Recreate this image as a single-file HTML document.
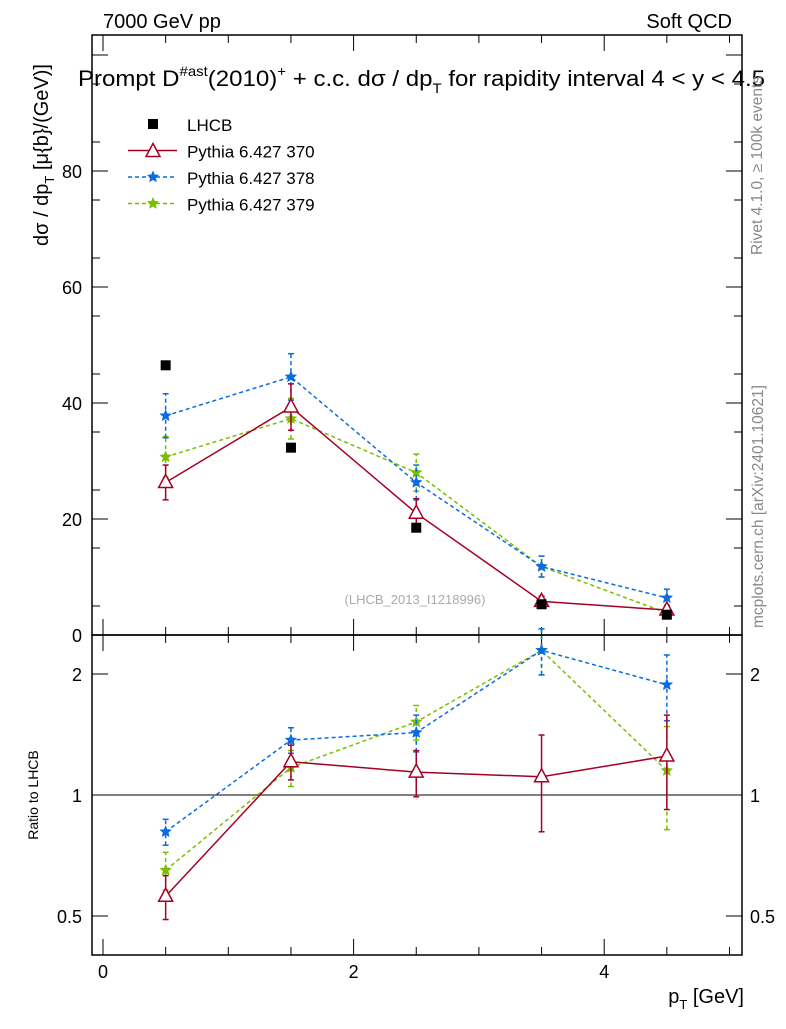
<!DOCTYPE html>
<html><head><meta charset="utf-8"><style>
body{margin:0;background:#fff}
svg text{font-family:"Liberation Sans",sans-serif}
</style></head><body>
<svg id="c" width="786" height="1024" xmlns="http://www.w3.org/2000/svg">
<rect x="92" y="35" width="650" height="600" fill="none" stroke="#000" stroke-width="1.5"/>
<rect x="92" y="635" width="650" height="320" fill="none" stroke="#000" stroke-width="1.5"/>
<text x="103" y="28" font-size="20">7000 GeV pp</text>
<text x="732" y="28" font-size="20" text-anchor="end">Soft QCD</text>
<text x="78" y="86" font-size="22.5" textLength="687" lengthAdjust="spacingAndGlyphs">Prompt D<tspan dy="-10" font-size="14">#ast</tspan><tspan dy="10">(2010)</tspan><tspan dy="-10" font-size="14">+</tspan><tspan dy="10"> + c.c.  dσ / dp</tspan><tspan dy="7" font-size="14">T</tspan><tspan dy="-7"> for rapidity interval 4 &lt; y &lt; 4.5</tspan></text>
<text transform="translate(48,155) rotate(-90)" font-size="20" text-anchor="middle">dσ / dp<tspan dy="6" font-size="13">T</tspan><tspan dy="-6"> [μ{b}/(GeV)]</tspan></text>
<text transform="translate(38,795) rotate(-90)" font-size="14" text-anchor="middle">Ratio to LHCB</text>
<text x="744" y="1003" font-size="20" text-anchor="end">p<tspan dy="6" font-size="13">T</tspan><tspan dy="-6"> [GeV]</tspan></text>
<text transform="translate(762,255) rotate(-90)" font-size="15.5" fill="#888">Rivet 4.1.0, ≥ 100k events</text>
<text transform="translate(763,628) rotate(-90)" font-size="15.5" fill="#888">mcplots.cern.ch [arXiv:2401.10621]</text>
<text x="415" y="604" font-size="13" fill="#aaa" text-anchor="middle">(LHCB_2013_I1218996)</text>
<g id="axes"></g><g id="marks"></g><g id="legend"></g>
</svg>
<script>
const xs=[0.5,1.5,2.5,3.5,4.5];
const lhcb=[46.5,32.3,18.5,5.3,3.5];
const s370=[26.3,39.3,21.0,5.8,4.3];
const e370=[3.0,4.0,2.5,0.9,0.8];
const s378=[37.8,44.5,26.3,11.8,6.4];
const e378=[3.8,4.0,3.0,1.8,1.5];
const s379=[30.7,37.3,28.0,11.8,3.8];
const e379=[3.5,3.5,3.2,1.8,1.0];
const r370=[0.56,1.21,1.14,1.11,1.25];
const re370=[0.07,0.12,0.15,0.3,0.33];
const r378=[0.81,1.37,1.43,2.29,1.88];
const re378=[0.06,0.1,0.15,0.3,0.35];
const r379=[0.65,1.17,1.52,2.29,1.15];
const re379=[0.07,0.12,0.15,0.3,0.33];
const yTicks=[0,20,40,60,80,100];
const xTicks=[0,2,4];
const rTicks=[0.5,1,2];
const X=v=>103+v*125.3;
const Y=v=>635-v*5.8;
const R=v=>795-Math.log2(v)*121;
const NS='http://www.w3.org/2000/svg';
function mk(p,t,a){const e=document.createElementNS(NS,t);for(const k in a)e.setAttribute(k,a[k]);document.getElementById(p).appendChild(e);return e;}
yTicks.forEach(v=>{const l=mk('axes','line',{x1:92,x2:108,y1:Y(v),y2:Y(v),stroke:'#000'});
if(v<=80){const t=mk('axes','text',{x:82,y:Y(v)+7,'font-size':18,'text-anchor':'end'});t.textContent=v;}
const l2=mk('axes','line',{x1:726,x2:742,y1:Y(v),y2:Y(v),stroke:'#000'});});
for(let v=5;v<100;v+=10){if(Y(v)<37)continue;mk('axes','line',{x1:92,x2:100,y1:Y(v),y2:Y(v),stroke:'#000'});mk('axes','line',{x1:734,x2:742,y1:Y(v),y2:Y(v),stroke:'#000'});}
xTicks.forEach(v=>{[[635,619],[35,51],[955,939],[635,651]].forEach(([a,b])=>{const l=mk('axes','line',{x1:X(v),x2:X(v),y1:a,y2:b,stroke:'#000'});});
const t=mk('axes','text',{x:X(v),y:978,'font-size':18,'text-anchor':'middle'});t.textContent=v;});
for(let v=0.5;v<5.1;v+=0.5){if(v%2===0)continue;[[635,627],[35,43],[955,947],[635,643]].forEach(([a,b])=>mk('axes','line',{x1:X(v),x2:X(v),y1:a,y2:b,stroke:'#000'}));}
rTicks.forEach(v=>{mk('axes','line',{x1:92,x2:108,y1:R(v),y2:R(v),stroke:'#000'});mk('axes','line',{x1:726,x2:742,y1:R(v),y2:R(v),stroke:'#000'});
[[82,'end'],[750,'start']].forEach(([x,a])=>{const t=mk('axes','text',{x:x,y:R(v)+7,'font-size':18,'text-anchor':a});t.textContent=v;});});
const ref=mk('axes','line',{x1:92,x2:742,y1:R(1),y2:R(1),stroke:'#000'});
function star(cx,cy,r,c,p){let d='';for(let i=0;i<10;i++){const rr=i%2?r*0.45:r;const a=-Math.PI/2+i*Math.PI/5;d+=(i?'L':'M')+(cx+rr*Math.cos(a)).toFixed(1)+','+(cy+rr*Math.sin(a)).toFixed(1);}
const e=mk(p,'path',{d:d+'Z',fill:c,stroke:c,'stroke-width':0.5});}
function tri(cx,cy,c,p){const e=mk(p,'path',{d:`M${cx},${cy-8}L${cx+7},${cy+5}L${cx-7},${cy+5}Z`,fill:'#fff',stroke:c,'stroke-width':1.5});}
function series(vals,errs,Yf,c,dash,kind,name){
const pl=mk('marks','polyline',{points:xs.map((x,i)=>X(x)+','+Yf(vals[i])).join(' '),fill:'none',stroke:c,'stroke-width':1.5,'stroke-dasharray':dash});
xs.forEach((x,i)=>{const e=mk('marks','line',{x1:X(x),x2:X(x),y1:Yf(vals[i]-errs[i]),y2:Yf(vals[i]+errs[i]),stroke:c,'stroke-width':1.5,'stroke-dasharray':dash});
[vals[i]-errs[i],vals[i]+errs[i]].forEach(v=>mk('marks','line',{x1:X(x)-3,x2:X(x)+3,y1:Yf(v),y2:Yf(v),stroke:c,'stroke-width':1.5}));
if(kind==='tri')tri(X(x),Yf(vals[i]),c,'marks');else star(X(x),Yf(vals[i]),6,c,'marks');});}
series(s379,e379,Y,'#79be00','4,3','star','pythia-379');
series(s378,e378,Y,'#0a6ce0','4,3','star','pythia-378');
series(s370,e370,Y,'#a50026','','tri','pythia-370');
lhcb.forEach((v,i)=>{const r=mk('marks','rect',{x:X(xs[i])-5,y:Y(v)-5,width:10,height:10,fill:'#000'});});
series(r379,re379,R,'#79be00','4,3','star','ratio-379');
series(r378,re378,R,'#0a6ce0','4,3','star','ratio-378');
series(r370,re370,R,'#a50026','','tri','ratio-370');
const L=[['LHCB','#000','sq',''],['Pythia 6.427 370','#a50026','tri',''],['Pythia 6.427 378','#0a6ce0','star','4,3'],['Pythia 6.427 379','#79be00','star','4,3']];
L.forEach((d,i)=>{const y=124+i*26.5;
if(d[2]==='sq'){mk('legend','rect',{x:148,y:y-5,width:10,height:10,fill:'#000'});}
else{mk('legend','line',{x1:128,x2:177,y1:y,y2:y,stroke:d[1],'stroke-width':1.5,'stroke-dasharray':d[3]});if(d[2]==='tri')tri(153,y+1,d[1],'legend');else star(153,y,6,d[1],'legend');}
const t=mk('legend','text',{x:187,y:y+7,'font-size':17});t.textContent=d[0];});
</script>
</body></html>
